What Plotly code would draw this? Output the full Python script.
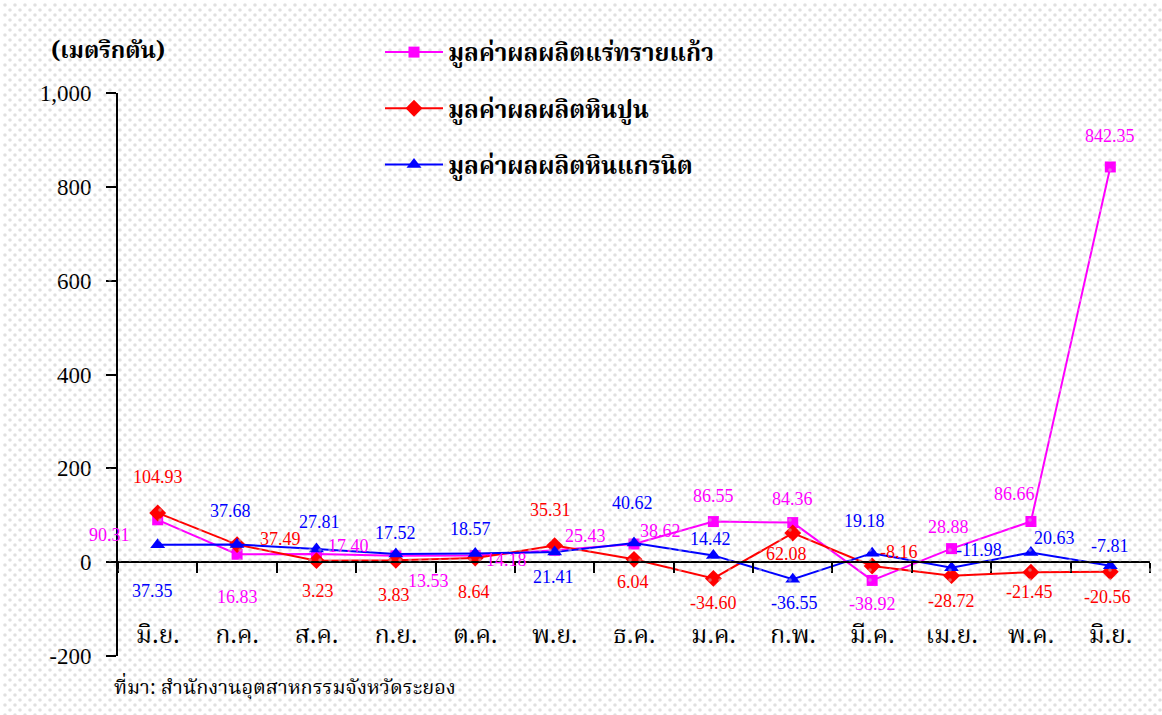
import plotly.graph_objects as go

months = ["มิ.ย.", "ก.ค.", "ส.ค.", "ก.ย.", "ต.ค.", "พ.ย.", "ธ.ค.", "ม.ค.", "ก.พ.", "มี.ค.", "เม.ย.", "พ.ค.", "มิ.ย."]
glass_sand = [90.31, 16.83, 17.40, 13.53, 14.18, 25.43, 38.62, 86.55, 84.36, -38.92, 28.88, 86.66, 842.35]
limestone = [104.93, 37.49, 3.23, 3.83, 8.64, 35.31, 6.04, -34.60, 62.08, -8.16, -28.72, -21.45, -20.56]
granite = [37.35, 37.68, 27.81, 17.52, 18.57, 21.41, 40.62, 14.42, -36.55, 19.18, -11.98, 20.63, -7.81]
names = ["มูลค่าผลผลิตแร่ทรายแก้ว", "มูลค่าผลผลิตหินปูน", "มูลค่าผลผลิตหินแกรนิต"]
y_ticks = [-200, 0, 200, 400, 600, 800, 1000]
y_tick_text = ["-200", "0", "200", "400", "600", "800", "1,000"]

# label offsets (pixels) for data labels: (dx, dy) with dy positive = down
glass_off = [(-48, 15), (0, 43), (32, -8), (33, 25), (31, 4), (31, -14), (26, -13),
             (0, -26), (0, -24), (0, 24), (-3, -22), (-16, -28), (0, -31)]
lime_off = [(0, -36), (43, -6), (2, 30), (-2, 35), (-1, 34), (-4, -36), (-1, 23),
            (0, 25), (-6, 21), (27, -14), (0, 25), (-1, 20), (-3, 25)]
gran_off = [(-5, 46), (-7, -33), (3, -27), (0, -21), (-5, -24), (-1, 25), (-2, -40),
            (-3, -16), (2, 24), (-8, -32), (27, -18), (24, -14), (0, -20)]

W, H = 1162, 715
THAI = "Noto Serif Thai, Noto Sans Thai, Loma, Norasi, Garuda, Liberation Serif, serif"
SERIF = "Liberation Serif, Times New Roman, serif"

xd = [118 / W, 1150 / W]
yd = [(H - 656) / H, (H - 93) / H]
ymin, ymax = -200, 1000
zero_pos = yd[0] + (0 - ymin) / (ymax - ymin) * (yd[1] - yd[0])

fig = go.Figure()

# dotted background: two offset dot grids -> staggered pattern
fig.add_trace(go.Scatter(
    x=[0, 1, 1, 0, 0], y=[0, 0, 1, 1, 0], mode="lines", fill="toself",
    fillcolor="white", line=dict(width=0),
    fillpattern=dict(shape=".", fgcolor="#c2c2c2", bgcolor="white", size=10, solidity=0.1),
    xaxis="x", yaxis="y", showlegend=False, hoverinfo="skip"))
fig.add_trace(go.Scatter(
    x=[0, 1, 1, 0, 0], y=[0, 0, 1, 1, 0], mode="lines", fill="toself",
    fillcolor="rgba(0,0,0,0)", line=dict(width=0),
    fillpattern=dict(shape=".", fgcolor="#c2c2c2", bgcolor="rgba(0,0,0,0)", size=10, solidity=0.1),
    xaxis="x3", yaxis="y3", showlegend=False, hoverinfo="skip"))

xs = list(range(len(months)))
series = [
    (glass_sand, names[0], "#ff00ff", "square", 11, glass_off),
    (limestone, names[1], "#ff0000", "diamond", 13, lime_off),
    (granite, names[2], "#0000ff", "triangle-up", 13, gran_off),
]
annotations = []
for i, (vals, nm, col, sym, ms, offs) in enumerate(series):
    fig.add_trace(go.Scatter(
        x=xs, y=vals, name=nm, mode="lines+markers",
        line=dict(color=col, width=2),
        marker=dict(symbol=sym, size=ms, color=col),
        xaxis="x2", yaxis="y2", legendgroup=str(i)))
    for xv, yv, (dx, dy) in zip(xs, vals, offs):
        annotations.append(dict(
            x=xv, y=yv, xref="x2", yref="y2", text=f"{yv:.2f}", showarrow=False,
            xshift=dx, yshift=-dy, font=dict(family=SERIF, size=18, color=col)))

annotations.append(dict(x=108 / W, y=1 - 52 / H, xref="paper", yref="paper",
                        xanchor="center", yanchor="middle",
                        text="<b>(เมตริกตัน)</b>", showarrow=False,
                        font=dict(family=THAI, size=23, color="black")))
annotations.append(dict(x=112 / W, y=1 - 688 / H, xref="paper", yref="paper",
                        xanchor="left", yanchor="middle",
                        text="ที่มา: สำนักงานอุตสาหกรรมจังหวัดระยอง", showarrow=False,
                        font=dict(family=THAI, size=20, color="black")))

hidden = dict(range=[0, 1], visible=False, fixedrange=True, automargin=False)
fig.update_layout(
    width=W, height=H,
    margin=dict(l=0, r=0, t=0, b=0, pad=0),
    paper_bgcolor="white", plot_bgcolor="rgba(0,0,0,0)",
    xaxis=dict(domain=[0, 1], anchor="y", **hidden),
    yaxis=dict(domain=[0, 1], anchor="x", **hidden),
    xaxis3=dict(domain=[5 / W, 1], anchor="y3", **hidden),
    yaxis3=dict(domain=[0, 1 - 5 / H], anchor="x3", **hidden),
    xaxis2=dict(domain=xd, anchor="free", position=zero_pos, range=[-0.5, len(months) - 0.5],
                tickvals=xs, ticktext=months, ticks="", showgrid=False, zeroline=False,
                showline=True, linecolor="black", linewidth=2, automargin=False,
                ticklabelstandoff=50,
                tickfont=dict(family=THAI, size=25, color="black"),
                minor=dict(tick0=-0.5, dtick=1, ticks="outside", ticklen=10, tickcolor="black",
                           tickwidth=2, showgrid=False)),
    yaxis2=dict(domain=yd, anchor="x2", range=[ymin, ymax], tickvals=y_ticks, ticktext=y_tick_text,
                ticks="outside", ticklen=10, tickwidth=2, tickcolor="black", automargin=False,
                showline=True, linecolor="black", linewidth=2, showgrid=False, zeroline=False,
                ticklabelstandoff=10,
                tickfont=dict(family=SERIF, size=23, color="black")),
    legend=dict(x=380 / W, y=1 - 30 / H, xanchor="left", yanchor="top",
                bgcolor="rgba(0,0,0,0)", tracegroupgap=22, traceorder="grouped",
                font=dict(family=THAI, size=24, color="black", weight="bold"), itemwidth=58),
    annotations=annotations,
    showlegend=True,
)
fig.write_html("out.html", config={"displayModeBar": False},
               post_script="document.body.style.margin='0';document.body.style.overflow='hidden';")
